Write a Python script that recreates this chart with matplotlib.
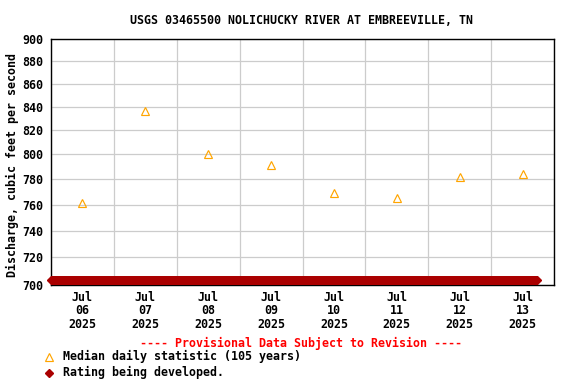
import matplotlib
matplotlib.use("Agg")
import matplotlib.pyplot as plt
import matplotlib.dates as mdates
import matplotlib.lines as mlines
from matplotlib.ticker import FixedLocator, NullLocator, FuncFormatter
import numpy as np
import pandas as pd

# ---- data ----
median_dates = pd.to_datetime(["2025-07-06 12:00", "2025-07-07 12:00", "2025-07-08 12:00",
                               "2025-07-09 12:00", "2025-07-10 12:00", "2025-07-11 12:00",
                               "2025-07-12 12:00", "2025-07-13 12:00"])
median_values = [761, 836, 800, 791, 769, 765, 782, 784]

rating_times = pd.date_range("2025-07-06 00:00", "2025-07-13 17:30", freq="15min")
rating_level = 703.6  # plotted along the bottom of the chart

y_ticks = [700, 720, 740, 760, 780, 800, 820, 840, 860, 880, 900]
title = "USGS 03465500 NOLICHUCKY RIVER AT EMBREEVILLE, TN"
ylabel = "Discharge, cubic feet per second"
provisional = "---- Provisional Data Subject to Revision ----"
legend_labels = ["Median daily statistic (105 years)", "Rating being developed."]

# ---- style ----
FONT = "DejaVu Sans Mono"
FS = 8.4
W, H = 576, 384
fig = plt.figure(figsize=(W / 100, H / 100), dpi=100)
ax = fig.add_axes([51 / W, 1 - 285 / H, (554 - 51) / W, (285 - 39) / H])

ORANGE = "#FFA500"
DARKRED = "#AA0000"
GRID = "#CCCCCC"

ax.plot(rating_times, np.full(len(rating_times), rating_level), linestyle="none",
        marker="D", markersize=4.3, color=DARKRED, markeredgecolor=DARKRED,
        markeredgewidth=1.0, clip_on=False, zorder=3)
ax.plot(median_dates, median_values, linestyle="none", marker="^", markersize=6.3,
        markerfacecolor="none", markeredgecolor=ORANGE, markeredgewidth=0.85, zorder=4)

ax.set_yscale("log")
ax.set_ylim(700, 900)
ax.yaxis.set_major_locator(FixedLocator(y_ticks))
ax.yaxis.set_minor_locator(NullLocator())
ax.yaxis.set_major_formatter(FuncFormatter(lambda v, p: f"{v:.0f}"))

ax.set_xlim(pd.Timestamp("2025-07-06 00:00"), pd.Timestamp("2025-07-14 00:00"))
ax.xaxis.set_major_locator(mdates.HourLocator(byhour=[12]))
ax.xaxis.set_major_formatter(mdates.DateFormatter("%b\n%d\n%Y"))
ax.xaxis.set_minor_locator(mdates.DayLocator())

ax.grid(True, which="minor", axis="x", color=GRID, linewidth=0.9)
ax.grid(True, which="major", axis="y", color=GRID, linewidth=0.9)
ax.grid(False, which="major", axis="x")
ax.set_axisbelow(True)

ax.tick_params(axis="both", which="both", length=0)
ax.tick_params(axis="y", pad=5.5)
ax.tick_params(axis="x", pad=4.0)
for lbl in ax.get_xticklabels() + ax.get_yticklabels():
    lbl.set_fontfamily(FONT)
    lbl.set_fontweight("bold")
    lbl.set_fontsize(FS)
for lbl in ax.get_xticklabels():
    lbl.set_linespacing(1.05)

for s in ax.spines.values():
    s.set_linewidth(1.0)
    s.set_color("black")

fig.text(302 / W, 1 - 20 / H, title, ha="center", va="center", fontfamily=FONT,
         fontweight="bold", fontsize=FS)
fig.text(12 / W, 1 - 165 / H, ylabel, ha="center", va="center", rotation=90,
         fontfamily=FONT, fontweight="bold", fontsize=FS)
fig.text(301 / W, 1 - 343 / H, provisional, ha="center", va="center", fontfamily=FONT,
         fontweight="bold", fontsize=FS, color="#FF0000")

# legend
fig.add_artist(mlines.Line2D([49 / W], [1 - 356.5 / H], transform=fig.transFigure,
                             marker="^", markersize=6.3, markerfacecolor="none",
                             markeredgecolor=ORANGE, markeredgewidth=0.85, linestyle="none"))
fig.add_artist(mlines.Line2D([49 / W], [1 - 372.5 / H], transform=fig.transFigure,
                             marker="D", markersize=4.3, color=DARKRED,
                             markeredgewidth=1.0, linestyle="none"))
fig.text(63 / W, 1 - 356.5 / H, legend_labels[0], ha="left", va="center",
         fontfamily=FONT, fontweight="bold", fontsize=FS)
fig.text(63 / W, 1 - 372.5 / H, legend_labels[1], ha="left", va="center",
         fontfamily=FONT, fontweight="bold", fontsize=FS)

fig.savefig("out.png", dpi=100, facecolor="white")
